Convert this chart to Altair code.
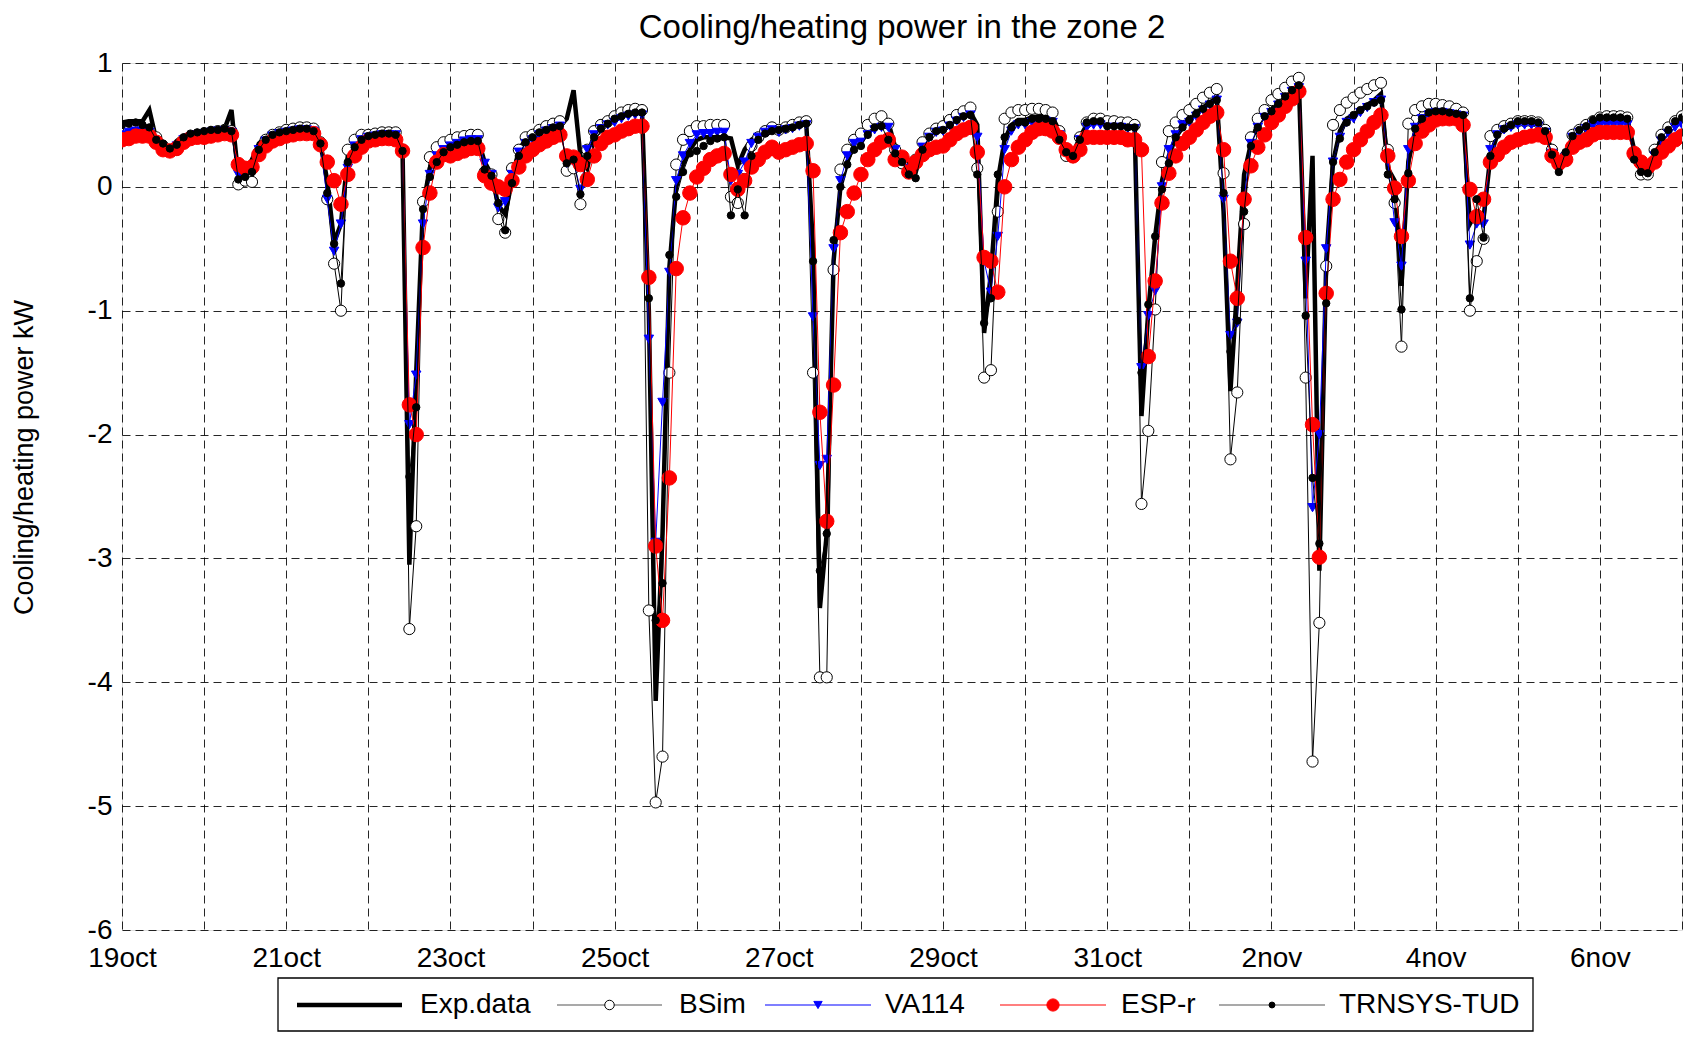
import json
import altair as alt
import pandas as pd

# ---------------- data ----------------
TITLE = "Cooling/heating power in the zone 2"
Y_TITLE = "Cooling/heating power kW"
SERIES = ["Exp.data", "BSim", "VA114", "ESP-r", "TRNSYS-TUD"]

# sample times: hours after 19 Oct 00:00 (2-hour step, 19 days)
HOURS = list(range(0, 457, 2))

X_TICK_DAYS = list(range(20))
X_TICK_LABELS = ["19oct", "", "21oct", "", "23oct", "", "25oct", "", "27oct", "",
                 "29oct", "", "31oct", "", "2nov", "", "4nov", "", "6nov", ""]
Y_TICKS = [-6, -5, -4, -3, -2, -1, 0, 1]

EXP_DATA = [
    0.52, 0.53, 0.53, 0.53, 0.62, 0.38, 0.32, 0.31, 0.37, 0.41, 0.43, 0.44,
    0.45, 0.46, 0.46, 0.47, 0.62, 0.08, 0.12, 0.22, 0.35, 0.40, 0.43, 0.45,
    0.46, 0.47, 0.47, 0.47, 0.46, 0.35, 0.05, -0.45, -0.30, 0.25, 0.36, 0.40,
    0.42, 0.43, 0.44, 0.44, 0.43, 0.30, -3.05, -1.50, -0.15, 0.15, 0.27, 0.32,
    0.33, 0.35, 0.37, 0.38, 0.39, 0.20, 0.10, -0.15, -0.22, 0.05, 0.30, 0.38,
    0.42, 0.45, 0.47, 0.48, 0.49, 0.55, 0.78, 0.25, 0.15, 0.40, 0.46, 0.52,
    0.55, 0.57, 0.59, 0.60, 0.61, -1.00, -4.15, -2.80, -0.65, 0.00, 0.18, 0.30,
    0.38, 0.40, 0.40, 0.40, 0.40, 0.39, 0.17, 0.30, 0.38, 0.42, 0.45, 0.46,
    0.47, 0.48, 0.48, 0.50, 0.52, -0.50, -3.40, -2.80, -0.60, 0.00, 0.20, 0.35,
    0.40, 0.45, 0.48, 0.50, 0.52, 0.32, 0.25, 0.16, 0.12, 0.30, 0.42, 0.47,
    0.48, 0.52, 0.55, 0.58, 0.60, 0.50, -1.18, -0.70, 0.05, 0.38, 0.50, 0.54,
    0.54, 0.56, 0.57, 0.57, 0.56, 0.45, 0.30, 0.27, 0.40, 0.50, 0.52, 0.52,
    0.50, 0.50, 0.50, 0.49, 0.49, -1.85, -1.00, -0.40, 0.05, 0.25, 0.40, 0.48,
    0.55, 0.60, 0.64, 0.68, 0.72, -0.20, -1.65, -0.80, 0.10, 0.35, 0.50, 0.58,
    0.62, 0.68, 0.74, 0.80, 0.85, -0.90, 0.25, -3.10, -0.60, 0.20, 0.45, 0.55,
    0.58, 0.62, 0.66, 0.70, 0.75, 0.15, 0.05, -0.80, 0.20, 0.45, 0.55, 0.60,
    0.62, 0.62, 0.61, 0.60, 0.60, -0.30, -0.20, -0.25, 0.25, 0.42, 0.47, 0.50,
    0.52, 0.53, 0.53, 0.52, 0.45, 0.28, 0.15, 0.25, 0.41, 0.45, 0.48, 0.52,
    0.55, 0.56, 0.56, 0.56, 0.55, 0.30, 0.15, 0.12, 0.25, 0.40, 0.46, 0.52,
    0.56,
]

BSIM = [
    0.46, 0.47, 0.48, 0.47, 0.46, 0.40, 0.33, 0.29, 0.30, 0.36, 0.40, 0.42,
    0.43, 0.44, 0.45, 0.46, 0.45, 0.02, 0.05, 0.04, 0.28, 0.38, 0.42, 0.44,
    0.46, 0.47, 0.48, 0.48, 0.47, 0.36, -0.10, -0.62, -1.00, 0.30, 0.38, 0.42,
    0.42, 0.43, 0.44, 0.44, 0.44, 0.30, -3.57, -2.74, -0.12, 0.24, 0.32, 0.36,
    0.38, 0.40, 0.41, 0.42, 0.42, 0.12, 0.10, -0.26, -0.37, 0.15, 0.30, 0.40,
    0.42, 0.46, 0.49, 0.51, 0.53, 0.13, 0.15, -0.14, 0.30, 0.45, 0.50, 0.53,
    0.57, 0.60, 0.62, 0.63, 0.62, -3.42, -4.97, -4.60, -1.50, 0.18, 0.38, 0.45,
    0.49, 0.49, 0.50, 0.50, 0.50, -0.08, -0.13, 0.15, 0.33, 0.40, 0.45, 0.48,
    0.46, 0.48, 0.50, 0.52, 0.53, -1.50, -3.96, -3.96, -0.67, 0.14, 0.30, 0.38,
    0.43, 0.50, 0.55, 0.57, 0.51, 0.30, 0.19, 0.14, 0.22, 0.36, 0.43, 0.47,
    0.49, 0.54, 0.58, 0.61, 0.64, 0.15, -1.54, -1.48, -0.20, 0.55, 0.60, 0.62,
    0.62, 0.63, 0.63, 0.62, 0.60, 0.45, 0.25, 0.24, 0.40, 0.52, 0.55, 0.55,
    0.53, 0.53, 0.52, 0.52, 0.50, -2.56, -1.97, -0.99, 0.20, 0.45, 0.52, 0.58,
    0.62, 0.67, 0.72, 0.76, 0.79, 0.11, -2.20, -1.66, -0.30, 0.40, 0.55, 0.62,
    0.70, 0.75, 0.80, 0.85, 0.88, -1.54, -4.64, -3.52, -0.64, 0.50, 0.62, 0.68,
    0.72, 0.76, 0.79, 0.82, 0.84, 0.30, -0.13, -1.29, 0.51, 0.62, 0.65, 0.67,
    0.67, 0.66, 0.65, 0.63, 0.60, -1.00, -0.60, -0.42, 0.41, 0.46, 0.49, 0.51,
    0.53, 0.53, 0.53, 0.52, 0.46, 0.30, 0.18, 0.25, 0.42, 0.46, 0.50, 0.53,
    0.56, 0.57, 0.57, 0.57, 0.56, 0.25, 0.10, 0.10, 0.30, 0.42, 0.48, 0.53,
    0.57,
]

VA114 = [
    0.42, 0.44, 0.45, 0.45, 0.44, 0.36, 0.31, 0.30, 0.33, 0.38, 0.40, 0.42,
    0.43, 0.44, 0.45, 0.45, 0.44, 0.10, 0.13, 0.15, 0.30, 0.37, 0.41, 0.43,
    0.44, 0.45, 0.46, 0.46, 0.45, 0.34, -0.10, -0.52, -0.30, 0.15, 0.33, 0.38,
    0.40, 0.41, 0.42, 0.42, 0.42, 0.28, -1.92, -1.52, -0.30, 0.10, 0.25, 0.30,
    0.33, 0.35, 0.37, 0.38, 0.38, 0.19, 0.10, -0.17, -0.12, 0.10, 0.28, 0.35,
    0.38, 0.42, 0.45, 0.47, 0.49, 0.19, 0.20, -0.02, 0.30, 0.42, 0.47, 0.50,
    0.52, 0.55, 0.57, 0.58, 0.58, -1.23, -2.87, -1.74, -0.69, 0.05, 0.25, 0.35,
    0.42, 0.43, 0.43, 0.44, 0.44, 0.05, 0.10, 0.20, 0.35, 0.40, 0.44, 0.46,
    0.44, 0.46, 0.47, 0.49, 0.50, -1.05, -2.25, -2.20, -0.50, 0.05, 0.25, 0.35,
    0.36, 0.42, 0.46, 0.48, 0.48, 0.30, 0.22, 0.15, 0.20, 0.32, 0.40, 0.44,
    0.45, 0.49, 0.53, 0.56, 0.58, 0.40, -0.60, -0.85, -0.40, 0.30, 0.45, 0.50,
    0.50, 0.52, 0.53, 0.53, 0.52, 0.42, 0.28, 0.27, 0.38, 0.48, 0.50, 0.50,
    0.48, 0.48, 0.48, 0.47, 0.47, -1.46, -1.04, -0.84, 0.00, 0.30, 0.42, 0.50,
    0.52, 0.57, 0.62, 0.66, 0.70, -0.10, -1.20, -1.10, -0.10, 0.35, 0.48, 0.56,
    0.60, 0.66, 0.72, 0.77, 0.80, -0.60, -2.59, -2.00, -0.50, 0.20, 0.40, 0.52,
    0.55, 0.60, 0.64, 0.68, 0.70, 0.20, -0.29, -0.64, 0.30, 0.48, 0.55, 0.58,
    0.60, 0.60, 0.59, 0.58, 0.57, -0.47, -0.30, -0.30, 0.30, 0.42, 0.46, 0.48,
    0.50, 0.50, 0.50, 0.49, 0.44, 0.27, 0.15, 0.24, 0.40, 0.44, 0.47, 0.50,
    0.50, 0.50, 0.50, 0.50, 0.50, 0.26, 0.14, 0.12, 0.25, 0.37, 0.43, 0.48,
    0.50,
]

ESP_R = [
    0.38, 0.39, 0.41, 0.41, 0.41, 0.36, 0.30, 0.29, 0.31, 0.36, 0.39, 0.40,
    0.40, 0.41, 0.42, 0.43, 0.42, 0.18, 0.15, 0.16, 0.26, 0.33, 0.37, 0.39,
    0.41, 0.42, 0.43, 0.43, 0.43, 0.34, 0.20, 0.05, -0.14, 0.10, 0.25, 0.32,
    0.37, 0.38, 0.39, 0.39, 0.38, 0.29, -1.76, -2.00, -0.49, -0.05, 0.20, 0.26,
    0.25, 0.27, 0.29, 0.31, 0.31, 0.09, 0.03, 0.00, -0.02, 0.05, 0.16, 0.25,
    0.30, 0.34, 0.37, 0.40, 0.42, 0.25, 0.24, 0.18, 0.06, 0.25, 0.35, 0.40,
    0.42, 0.45, 0.47, 0.49, 0.49, -0.73, -2.90, -3.50, -2.35, -0.66, -0.25, -0.05,
    0.08, 0.15, 0.22, 0.25, 0.27, 0.10, -0.02, 0.05, 0.16, 0.22, 0.28, 0.32,
    0.28, 0.30, 0.32, 0.34, 0.35, 0.13, -1.82, -2.70, -1.60, -0.37, -0.20, -0.05,
    0.10, 0.22, 0.30, 0.36, 0.38, 0.22, 0.24, 0.12, 0.20, 0.26, 0.30, 0.32,
    0.33, 0.38, 0.43, 0.46, 0.48, 0.28, -0.57, -0.60, -0.85, 0.00, 0.22, 0.32,
    0.38, 0.44, 0.47, 0.47, 0.45, 0.40, 0.30, 0.25, 0.30, 0.40, 0.40, 0.40,
    0.40, 0.40, 0.40, 0.38, 0.38, 0.30, -1.37, -0.76, -0.13, 0.11, 0.25, 0.35,
    0.40, 0.46, 0.52, 0.57, 0.60, 0.30, -0.60, -0.90, -0.10, 0.17, 0.32, 0.42,
    0.52, 0.58, 0.65, 0.71, 0.77, -0.41, -1.92, -2.99, -0.86, -0.10, 0.06, 0.20,
    0.30, 0.38, 0.45, 0.52, 0.58, 0.25, -0.01, -0.40, 0.05, 0.35, 0.45, 0.50,
    0.54, 0.55, 0.55, 0.55, 0.50, -0.02, -0.24, -0.10, 0.20, 0.26, 0.32, 0.36,
    0.38, 0.40, 0.41, 0.42, 0.40, 0.25, 0.19, 0.22, 0.32, 0.36, 0.38, 0.42,
    0.44, 0.44, 0.44, 0.44, 0.44, 0.27, 0.20, 0.16, 0.20, 0.28, 0.33, 0.38,
    0.41,
]

TRNSYS_TUD = [
    0.50, 0.51, 0.52, 0.50, 0.48, 0.38, 0.35, 0.31, 0.34, 0.40, 0.43, 0.44,
    0.45, 0.46, 0.46, 0.47, 0.45, 0.06, 0.08, 0.12, 0.30, 0.38, 0.42, 0.44,
    0.45, 0.46, 0.47, 0.47, 0.45, 0.35, -0.05, -0.46, -0.78, 0.20, 0.32, 0.38,
    0.41, 0.42, 0.43, 0.43, 0.42, 0.29, -2.34, -1.78, -0.18, 0.08, 0.20, 0.28,
    0.32, 0.34, 0.36, 0.37, 0.37, 0.14, 0.09, -0.13, -0.35, 0.03, 0.25, 0.36,
    0.40, 0.44, 0.46, 0.48, 0.49, 0.19, 0.22, -0.06, 0.25, 0.40, 0.47, 0.51,
    0.55, 0.57, 0.59, 0.60, 0.60, -0.90, -3.50, -3.20, -0.55, -0.08, 0.12, 0.27,
    0.29, 0.33, 0.37, 0.39, 0.40, -0.23, -0.02, -0.23, 0.25, 0.38, 0.43, 0.45,
    0.46, 0.47, 0.48, 0.50, 0.51, -0.60, -3.10, -2.80, -0.43, 0.00, 0.18, 0.30,
    0.33, 0.42, 0.48, 0.49, 0.38, 0.27, 0.20, 0.10, 0.07, 0.30, 0.40, 0.45,
    0.46, 0.50, 0.54, 0.57, 0.58, 0.10, -1.10, -0.90, 0.10, 0.40, 0.48, 0.52,
    0.52, 0.55, 0.55, 0.55, 0.53, 0.38, 0.28, 0.25, 0.38, 0.52, 0.53, 0.53,
    0.49, 0.49, 0.49, 0.48, 0.48, -1.50, -0.95, -0.40, -0.02, 0.19, 0.40, 0.48,
    0.54, 0.59, 0.63, 0.67, 0.70, -0.05, -1.33, -1.08, -0.20, 0.33, 0.48, 0.57,
    0.61, 0.67, 0.73, 0.78, 0.82, -1.04, -2.35, -2.88, -0.94, 0.20, 0.39, 0.52,
    0.58, 0.62, 0.65, 0.68, 0.70, 0.10, -0.10, -0.99, 0.11, 0.47, 0.55, 0.60,
    0.61, 0.61, 0.60, 0.59, 0.58, -0.90, -0.10, -0.41, 0.25, 0.42, 0.47, 0.50,
    0.53, 0.53, 0.53, 0.52, 0.45, 0.26, 0.12, 0.28, 0.41, 0.46, 0.49, 0.54,
    0.56, 0.56, 0.56, 0.56, 0.55, 0.22, 0.12, 0.11, 0.28, 0.40, 0.46, 0.53,
    0.56,
]

VALUES = [EXP_DATA, BSIM, VA114, ESP_R, TRNSYS_TUD]
for v in VALUES:
    assert len(v) == len(HOURS), len(v)

# ---------------- styling ----------------
FONT = "Liberation Sans"
W, H = 1560, 867

STYLE = {
    "Exp.data":   dict(color="black", width=4.5, shape=None),
    "BSim":       dict(color="black", width=1, shape="circle", fill="white", stroke="black", size=125),
    "VA114":      dict(color="#0000ff", width=1, shape="triangle-down", fill="#0000ff", stroke="#0000ff", size=90),
    "ESP-r":      dict(color="#ff0000", width=1, shape="circle", fill="#ff0000", stroke="#ff0000", size=210),
    "TRNSYS-TUD": dict(color="black", width=1, shape="circle", fill="black", stroke="black", size=55),
}
LEGEND_SIZE = {"BSim": 90, "VA114": 70, "ESP-r": 150, "TRNSYS-TUD": 35}

label_expr = json.dumps(X_TICK_LABELS) + "[round(datum.value)]"

x_enc = alt.X(
    "t:Q",
    scale=alt.Scale(domain=[0, 19], nice=False, zero=False),
    axis=alt.Axis(values=X_TICK_DAYS, labelExpr=label_expr, title=None,
                  grid=True, gridColor="black", gridDash=[8, 5], gridWidth=1, gridOpacity=0.85,
                  domain=False, ticks=False, tickSize=0, labelFlush=False, labelOverlap=False,
                  labelFont=FONT, labelFontSize=28, labelColor="black", labelPadding=14),
)
y_enc = alt.Y(
    "v:Q",
    scale=alt.Scale(domain=[-6, 1], nice=False, zero=False),
    axis=alt.Axis(values=Y_TICKS, labelExpr="'' + datum.value", title=Y_TITLE,
                  grid=True, gridColor="black", gridDash=[8, 5], gridWidth=1, gridOpacity=0.85,
                  domain=False, ticks=False, tickSize=0, labelOverlap=False,
                  labelFont=FONT, labelFontSize=28, labelColor="black", labelPadding=10,
                  titleFont=FONT, titleFontSize=27, titleFontWeight="normal", titleColor="black",
                  titleAngle=270, titleX=-98, titleY=394, titleAlign="center", titleBaseline="middle"),
)

layers = []
for name, vals in zip(SERIES, VALUES):
    st = STYLE[name]
    df = pd.DataFrame({"t": [h / 24 for h in HOURS], "v": vals, "series": name})
    base = alt.Chart(df).encode(x=x_enc, y=y_enc)
    layers.append(base.mark_line(color=st["color"], strokeWidth=st["width"], clip=True))
    if st["shape"]:
        layers.append(base.mark_point(shape=st["shape"], filled=True, fill=st["fill"], stroke=st["stroke"],
                                      strokeWidth=1, size=st["size"], opacity=1, clip=True))

# ---------------- title (as text above the plot) ----------------
layers.append(
    alt.Chart(pd.DataFrame({"label": [TITLE]}))
    .mark_text(align="center", baseline="alphabetic", font=FONT, fontSize=33, color="black")
    .encode(x=alt.value(W / 2), y=alt.value(-25), text="label:N")
)

# ---------------- legend (drawn below the plot) ----------------
LEG_Y = 942
LEG_LINES = [(175, 280), (435, 540), (643, 749), (878, 984), (1097, 1203)]
LEG_TEXT_X = [298, 557, 763, 999, 1217]
layers.append(
    alt.Chart(pd.DataFrame({"label": ["box"]})).mark_rect(fill="white", fillOpacity=0, stroke="black", strokeWidth=1.3)
    .encode(x=alt.value(156), x2=alt.value(1411), y=alt.value(915), y2=alt.value(968))
)
for i, name in enumerate(SERIES):
    st = STYLE[name]
    one = alt.Chart(pd.DataFrame({"label": [name]}))
    x1, x2 = LEG_LINES[i]
    lcol = st["color"] if name == "Exp.data" or st["color"] != "black" else "#555555"
    layers.append(one.mark_rule(color=lcol, strokeWidth=st["width"] if name == "Exp.data" else 1.2)
                  .encode(x=alt.value(x1), x2=alt.value(x2), y=alt.value(LEG_Y)))
    if st["shape"]:
        layers.append(one.mark_point(shape=st["shape"], filled=True, fill=st["fill"], stroke=st["stroke"],
                                     strokeWidth=1, size=LEGEND_SIZE[name], opacity=1)
                      .encode(x=alt.value((x1 + x2) / 2), y=alt.value(LEG_Y)))
    layers.append(one.mark_text(align="left", baseline="middle", font=FONT, fontSize=28, color="black")
                  .encode(x=alt.value(LEG_TEXT_X[i]), y=alt.value(LEG_Y), text="label:N"))

chart = alt.layer(*layers).properties(
    width=W, height=H,
    autosize=alt.AutoSizeParams(type="none"),
    padding={"left": 114, "top": 55, "right": 6, "bottom": 103},
).configure_view(stroke="black", strokeWidth=1.2).configure(background="white")

chart.save("out.html", embed_options={"renderer": "svg", "actions": False})
